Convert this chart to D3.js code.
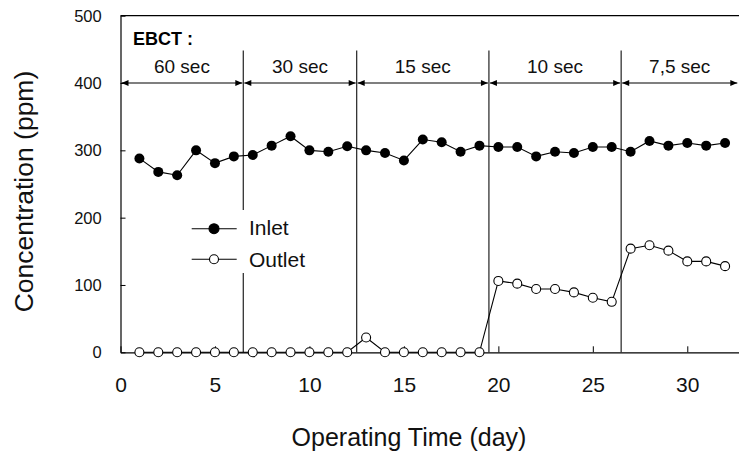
<!DOCTYPE html>
<html><head><meta charset="utf-8">
<script src="https://cdn.jsdelivr.net/npm/d3@7"></script>
<style>
body{margin:0;background:#fff;}
svg{display:block;font-family:"Liberation Sans",Arial,sans-serif;}
</style></head>
<body><svg id="c" width="739" height="455"></svg>
<script>
const days   = [1,2,3,4,5,6,7,8,9,10,11,12,13,14,15,16,17,18,19,20,21,22,23,24,25,26,27,28,29,30,31,32];
const inlet  = [288,268,263,300,281,291,293,307,321,300,298,306,300,296,285,316,312,298,307,305,305,291,298,296,305,305,298,314,307,311,307,311];
const outlet = [0,0,0,0,0,0,0,0,0,0,0,0,22,0,0,0,0,0,0,106,102,94,94,89,81,75,154,159,151,135,135,128];
const xTicks = [0,5,10,15,20,25,30];
const yTicks = [0,100,200,300,400,500];
const phaseBounds = [0,6.5,12.5,19.5,26.5,32.7];
const phaseLabels = ["60 sec","30 sec","15 sec","10 sec","7,5 sec"];
const seriesNames = ["Inlet","Outlet"];

const svg = d3.select("#c");
const x = d3.scaleLinear().domain([0,33]).range([120.5,120.5+33*18.893]);
const y = d3.scaleLinear().domain([0,500]).range([352.3,15.7]);

// separators
svg.append("g").selectAll("line").data(phaseBounds.slice(1,-1)).join("line")
  .attr("x1",d=>x(d)).attr("x2",d=>x(d)).attr("y1",50.5).attr("y2",y(0))
  .attr("stroke","#333").attr("stroke-width",1.3);

// top frame line
svg.append("line").attr("x1",x(0)).attr("x2",x(33)).attr("y1",y(500)).attr("y2",y(500))
  .attr("stroke","#000").attr("stroke-width",1.2);

// axes
const gx = svg.append("g").attr("transform",`translate(0,${y(0)})`)
  .call(d3.axisBottom(x).tickValues(xTicks).tickSizeInner(-6).tickSizeOuter(0));
gx.select(".domain").attr("stroke-width",1.2);
gx.selectAll("text").attr("y",0).attr("dy",null).attr("transform","translate(0,39.5)")
  .attr("font-size",21).attr("font-family","Liberation Sans, Arial").attr("fill","#111");

const gy = svg.append("g").attr("transform",`translate(${x(0)},0)`)
  .call(d3.axisLeft(y).tickValues(yTicks).tickSizeInner(-5).tickSizeOuter(0));
gy.select(".domain").attr("stroke-width",1.2);
gy.selectAll("text").attr("x",-18.8).attr("dy",null).attr("transform","translate(0,5.5)")
  .attr("font-size",16.5).attr("font-family","Liberation Sans, Arial").attr("fill","#111");

// EBCT header and phase arrows
svg.append("text").attr("x",133).attr("y",45).attr("font-size",18).attr("font-weight","bold").text("EBCT :");
const ay = 83;
const phases = phaseLabels.map((l,i)=>({label:l,a:phaseBounds[i],b:phaseBounds[i+1]}));
const pg = svg.append("g").selectAll("g").data(phases).join("g");
pg.append("line").attr("x1",d=>x(d.a)+1).attr("x2",d=>x(d.b)-1).attr("y1",ay).attr("y2",ay)
  .attr("stroke","#000").attr("stroke-width",1.2);
pg.append("path").attr("d",d=>{const s=x(d.a)+1;return `M${s},${ay}L${s+7},${ay-3}L${s+7},${ay+3}Z`;}).attr("fill","#000");
pg.append("path").attr("d",d=>{const e=x(d.b)-1;return `M${e},${ay}L${e-7},${ay-3}L${e-7},${ay+3}Z`;}).attr("fill","#000");
pg.append("text").attr("x",d=>(x(d.a)+x(d.b))/2).attr("y",72.7).attr("text-anchor","middle")
  .attr("font-size",19).attr("fill","#111").text(d=>d.label);

// legend background + entries
const lg = svg.append("g");
lg.append("rect").attr("x",186).attr("y",210).attr("width",124).attr("height",63).attr("fill","#fff");
const leg = [{name:seriesNames[0],fill:"#000",yy:228.7,ty:235},{name:seriesNames[1],fill:"#fff",yy:259.3,ty:266.7}];
const le = lg.selectAll("g").data(leg).join("g");
le.append("line").attr("x1",191.7).attr("x2",236.7).attr("y1",d=>d.yy).attr("y2",d=>d.yy).attr("stroke","#000").attr("stroke-width",1.1);
le.append("circle").attr("cx",214).attr("cy",d=>d.yy).attr("r",d=>d.fill==="#000"?5:4.5)
  .attr("fill",d=>d.fill).attr("stroke","#000").attr("stroke-width",1.1);
le.append("text").attr("x",249).attr("y",d=>d.ty).attr("font-size",21).attr("fill","#111").text(d=>d.name);

// series
const line = d3.line().x(d=>x(d[0])).y(d=>y(d[1]));
const inData = days.map((d,i)=>[d,inlet[i]]);
const outData = days.map((d,i)=>[d,outlet[i]]);
svg.append("path").datum(inData).attr("d",line).attr("fill","none").attr("stroke","#000").attr("stroke-width",1.1);
svg.append("path").datum(outData).attr("d",line).attr("fill","none").attr("stroke","#000").attr("stroke-width",1.1);
svg.append("g").selectAll("circle").data(inData).join("circle")
  .attr("cx",d=>x(d[0])).attr("cy",d=>y(d[1])).attr("r",5).attr("fill","#000");
svg.append("g").selectAll("circle").data(outData).join("circle")
  .attr("cx",d=>x(d[0])).attr("cy",d=>y(d[1])).attr("r",4.5).attr("fill","#fff").attr("stroke","#000").attr("stroke-width",1.1);

// axis titles
svg.append("text").attr("x",409).attr("y",446).attr("text-anchor","middle").attr("font-size",25).attr("fill","#111").text("Operating Time (day)");
svg.append("text").attr("transform","translate(32.5,191.5) rotate(-90)").attr("text-anchor","middle").attr("font-size",26.5).attr("fill","#111").text("Concentration (ppm)");
</script></body></html>
